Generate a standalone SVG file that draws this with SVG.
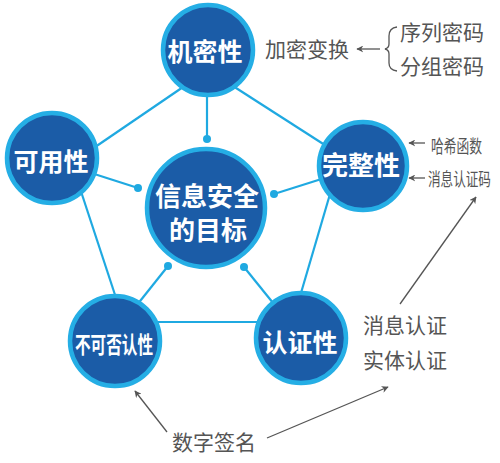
<svg xmlns="http://www.w3.org/2000/svg" width="500" height="463" viewBox="0 0 500 463">
<defs>
<marker id="ah" viewBox="0 0 10 10" refX="9" refY="5" markerWidth="7" markerHeight="7" orient="auto-start-reverse" markerUnits="userSpaceOnUse">
<path d="M0,0 L10,5 L0,10 L3,5 Z" fill="#555"/>
</marker>
</defs>
<style>
.link{stroke:#1fa9e1;stroke-width:2.2;fill:none}
.dot{fill:#1fa9e1}
.node{fill:#1b5ca7;stroke:#25aee5;stroke-width:4.5}
.nt{font-family:"Noto Sans CJK SC","Noto Sans",sans-serif;font-weight:bold;fill:#fff;text-anchor:middle}
.gt{font-family:"Noto Sans CJK SC","Noto Sans",sans-serif;fill:#555}
.arr{stroke:#555;stroke-width:1.3;fill:none}
</style>
<rect width="500" height="463" fill="#fff"/>
<g id="connectors">
<line class="link" x1="60" y1="171" x2="208" y2="70"/>
<line class="link" x1="208" y1="70" x2="356" y2="165"/>
<line class="link" x1="70" y1="158" x2="120" y2="310"/>
<line class="link" x1="340" y1="160" x2="296" y2="310"/>
<line class="link" x1="120" y1="322" x2="300" y2="322"/>
<line class="link" x1="207" y1="90" x2="207" y2="139"/>
<line class="link" x1="60" y1="163" x2="138" y2="188"/>
<line class="link" x1="350" y1="170" x2="274" y2="194"/>
<line class="link" x1="125" y1="320" x2="168" y2="266"/>
<line class="link" x1="290" y1="324" x2="244" y2="267"/>
<circle class="dot" cx="207" cy="139" r="4"/>
<circle class="dot" cx="138" cy="188" r="4"/>
<circle class="dot" cx="274" cy="194" r="4"/>
<circle class="dot" cx="168" cy="266" r="4"/>
<circle class="dot" cx="244" cy="267" r="4"/>
<line class="arr" x1="380" y1="49" x2="357" y2="49" marker-end="url(#ah)"/>
<line class="arr" x1="425" y1="143" x2="409" y2="143" marker-end="url(#ah)"/>
<line class="arr" x1="425" y1="178" x2="409" y2="178" marker-end="url(#ah)"/>
<line class="arr" x1="400" y1="304" x2="476" y2="197" marker-end="url(#ah)"/>
<line class="arr" x1="267" y1="438" x2="388" y2="387" marker-end="url(#ah)"/>
<line class="arr" x1="167" y1="432" x2="135" y2="391" marker-end="url(#ah)"/>
<path class="arr" d="M397,27 Q389,28 389,36 L389,44 Q389,48 385,49 Q389,50 389,54 L389,63 Q389,70 397,71"/>
</g>
<g id="center">
<circle class="node" cx="206" cy="208" r="59"/>
<text class="nt" x="207" y="206" font-size="26">信息安全</text>
<text class="nt" x="208" y="240" font-size="26">的目标</text>
</g>
<g id="confidentiality">
<circle class="node" cx="208" cy="50" r="45"/>
<text class="nt" x="205" y="61" font-size="25">机密性</text>
</g>
<g id="availability">
<circle class="node" cx="52" cy="158" r="45"/>
<text class="nt" x="51" y="171" font-size="25">可用性</text>
</g>
<g id="integrity">
<circle class="node" cx="363" cy="166" r="44"/>
<text class="nt" x="361" y="175" font-size="26">完整性</text>
</g>
<g id="nonrepudiation">
<circle class="node" cx="115" cy="341" r="45"/>
<text class="nt" transform="translate(114,353) scale(0.68,1)" font-size="23">不可否认性</text>
</g>
<g id="authentication">
<circle class="node" cx="301" cy="338" r="45"/>
<text class="nt" x="300" y="352" font-size="25">认证性</text>
</g>
<g id="labels">
<text class="gt" x="265" y="57" font-size="21">加密变换</text>
<text class="gt" x="400" y="40" font-size="21">序列密码</text>
<text class="gt" x="400" y="74" font-size="21">分组密码</text>
<text class="gt" transform="translate(431,153) scale(0.71,1)" font-size="18">哈希函数</text>
<text class="gt" transform="translate(428,186) scale(0.7,1)" font-size="18">消息认证码</text>
<text class="gt" x="363" y="333" font-size="21">消息认证</text>
<text class="gt" x="363" y="368" font-size="21">实体认证</text>
<text class="gt" x="172" y="450" font-size="21">数字签名</text>
</g>
</svg>
